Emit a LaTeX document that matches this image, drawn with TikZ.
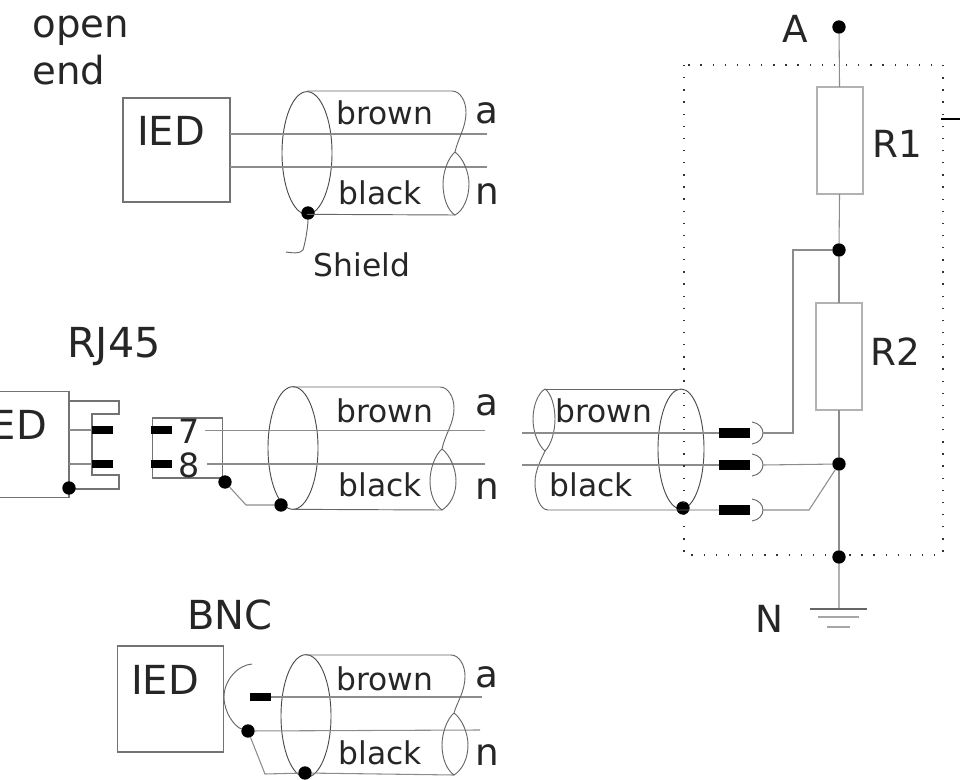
\documentclass[tikz,border=0pt]{standalone}
\usepackage{fontspec}
\setmainfont{DejaVu Sans}
\usetikzlibrary{shapes.geometric}

\tikzset{every picture/.style={line width=0.75pt}}
\tikzset{
  wire/.style={draw=black!45,line width=0.8pt},
  sheath/.style={draw=black!60,line width=0.7pt},
  boxed/.style={draw=black!55,line width=0.9pt,inner sep=0pt,outer sep=0pt},
  ied/.style={boxed,minimum width=80.25pt,minimum height=78pt},
  resistor/.style={draw=black!30,line width=1.2pt,inner sep=0pt,outer sep=0pt,minimum width=34.5pt,minimum height=80.25pt},
  shield/.style={ellipse,draw=black!70,line width=0.7pt,inner sep=0pt,outer sep=0pt,minimum width=37.5pt,minimum height=92pt},
  dot/.style={circle,fill=black,inner sep=0pt,outer sep=0pt,minimum size=10pt},
  pin/.style={rectangle,fill=black,inner sep=0pt,outer sep=0pt,minimum width=16pt,minimum height=6.5pt},
  bigpin/.style={pin,minimum width=23pt,minimum height=7.5pt},
  txt/.style={inner sep=0pt,text=black!85,font=\fontsize{23.5}{27}\selectfont},
  big/.style={inner sep=0pt,text=black!85,font=\fontsize{30}{33}\selectfont},
  mid/.style={inner sep=0pt,text=black!85,font=\fontsize{28}{31}\selectfont}
}

\begin{document}
\begin{tikzpicture}[x=0.75pt,y=0.75pt,yscale=-1,xscale=1]
        \useasboundingbox (0,0) rectangle (960,780);
        \clip (0,0) rectangle (960,780);

        %Open end
        \node[mid,anchor=base west,font=\fontsize{29}{32}\selectfont] (lblOpen) at (32,38) {open};
        \node[mid,anchor=base west,font=\fontsize{29}{32}\selectfont] (lblEnd) at (32,85) {end};
        \node[ied] (iedOpen) at (176.5,150) {};
        \node[big] (txtOpen) at (171,131) {IED};
        \node[shield] (shOpen) at (307,153) {};
        \node[dot] (dotOpen) at (308,213) {};
        \coordinate (openEndA) at (487,134);
        \coordinate (openEndN) at (487,167);
        \draw[wire] (iedOpen.east |- openEndA) -- (openEndA);
        \draw[wire] (iedOpen.east |- openEndN) -- (openEndN);
        %Cable outline
        \draw[sheath] (307,91) -- (452,91) .. controls (460,91) and (466,101) .. (466,112) .. controls (466,128) and (458,138) .. (455,152) .. controls (463,158) and (469,172) .. (469,184) .. controls (469,198) and (463,211) .. (455,215) .. controls (448,211) and (443,198) .. (443,184) .. controls (443,172) and (448,158) .. (455,152);
        \draw[sheath] (shOpen.south) -- (455,215);
        \draw[sheath] (dotOpen) .. controls (308,225) and (306,240) .. (303,250) .. controls (300,254) and (292,253) .. (286,252);
        \node[txt] (brownOpen) at (385,113) {brown};
        \node[txt] (blackOpen) at (380,193) {black};
        \node[mid] (aOpen) at (487,113) {a};
        \node[mid] (nOpen) at (487,194) {n};
        \node[txt] (lblShield) at (362,265) {Shield};

        %RJ45
        \node[big,font=\fontsize{31}{34}\selectfont] (lblRj) at (114,347) {RJ45};
        \node[ied,minimum height=79pt] (iedRj) at (15.5,444.5) {};
        \node[big] (txtRj) at (13,425) {IED};
        \draw[boxed] (iedRj.east |- 0,401) -- (119,401) -- (119,414) -- (92,414) -- (92,475) -- (119,475) -- (119,489) -- (iedRj.east |- 0,489);
        \node[pin,anchor=west] (pinSockA) at (92,430) {};
        \node[pin,anchor=west] (pinSockB) at (92,464) {};
        \draw[wire] (iedRj.east |- pinSockA) -- (pinSockA);
        \draw[wire] (iedRj.east |- pinSockB) -- (pinSockB);
        \node[dot] (dotSock) at (69,488) {};
        \node[boxed,minimum width=53pt,minimum height=45pt] (plugRj) at (187.5,448) {};
        \node[pin,anchor=west] (pinPlugA) at (151,430) {};
        \node[pin,anchor=west] (pinPlugB) at (151,464) {};
        \node[txt,font=\fontsize{25}{28}\selectfont] (num7) at (189,431) {7};
        \node[txt,font=\fontsize{25}{28}\selectfont] (num8) at (189,465) {8};
        \node[shield] (shRj) at (293,448) {};
        \node[dot] (dotPlug) at (225,482) {};
        \node[dot] (dotRj) at (281,505) {};
        \coordinate (rjStartA) at (205,430.5);
        \coordinate (rjStartN) at (207,464);
        \coordinate (rjEndA) at (485,430.5);
        \coordinate (rjEndN) at (485,464);
        \draw[wire] (rjStartA) -- (rjEndA);
        \draw[wire] (rjStartN) -- (rjEndN);
        \draw[wire] (dotPlug) -- (246,505) -- (dotRj);
        %Cable outline
        \draw[sheath] (293,387) -- (440,387) .. controls (448,387) and (454,397) .. (454,408) .. controls (454,424) and (445,434) .. (442,449) .. controls (450,455) and (456,469) .. (456,481) .. controls (456,495) and (450,505) .. (442,510) .. controls (435,505) and (430,495) .. (430,481) .. controls (430,469) and (435,455) .. (442,449);
        \draw[sheath] (shRj.south) -- (442,510);
        \node[txt] (brownRj) at (385,411) {brown};
        \node[txt] (blackRj) at (380,485) {black};
        \node[mid] (aRj) at (487,405) {a};
        \node[mid] (nRj) at (487,489) {n};

        %Right cable
        \node[shield,minimum width=34.5pt,minimum height=90pt] (shLoad) at (681,449) {};
        \node[dot] (dotLoad) at (683,508) {};
        \node[bigpin,anchor=west] (barA) at (719,433) {};
        \node[bigpin,anchor=west] (barB) at (719,465) {};
        \node[bigpin,anchor=west] (barC) at (719,510) {};
        \draw[sheath] (545,389) -- (681,389);
        \draw[sheath] (545,389) .. controls (538,393) and (533,406) .. (533,419) .. controls (533,432) and (538,445) .. (545,451) .. controls (551,445) and (555,432) .. (555,419) .. controls (555,406) and (551,393) .. (545,389);
        \draw[sheath] (545,451) .. controls (541,460) and (535,470) .. (535,483) .. controls (535,496) and (540,510) .. (548,510) -- (barC);
        \node[txt] (brownLoad) at (604,411) {brown};
        \node[txt] (blackLoad) at (591,485) {black};
        \coordinate (loadStartA) at (522,433);
        \coordinate (loadStartB) at (522,465);
        \draw[wire] (loadStartA) -- (barA);
        \draw[wire] (loadStartB) -- (barB);
        %Plug contacts
        \draw[sheath] (752,422) .. controls (759,423) and (763,428) .. (763,433) .. controls (763,438) and (759,443) .. (752,444);
        \draw[sheath] (752,454) .. controls (759,455) and (763,460) .. (763,465) .. controls (763,470) and (759,475) .. (752,476);
        \draw[sheath] (752,499) .. controls (759,500) and (763,505) .. (763,510) .. controls (763,515) and (759,520) .. (752,521);

        %Divider
        \draw[dotted,line width=0.9pt,black!80,dash pattern=on 1pt off 8.1pt] (684,65) rectangle (943,555);
        \node[dot] (dotA) at (839,27) {};
        \node[dot] (dotMid) at (839,250) {};
        \node[dot] (dotN) at (839,464) {};
        \node[dot] (dotBot) at (839,557) {};
        \node[resistor] (resA) at (840,140.5) {};
        \node[resistor] (resB) at (839,356.5) {};
        \coordinate (gndTop) at (839,609);
        \draw[wire] (dotA) -- (resA);
        \draw[wire] (resA) -- (dotMid);
        \draw[wire] (dotMid) -- (resB);
        \draw[wire] (resB) -- (dotN);
        \draw[wire] (dotN) -- (dotBot);
        \draw[wire,draw=black!30,line width=1.1pt] (dotBot) -- (gndTop);
        \draw[wire] (763,433) -- (793,433) -- (793,250) -- (dotMid);
        \draw[wire] (763,465) -- (dotN);
        \draw[wire] (763,510) -- (809,510) -- (dotN);
        %Ground
        \draw[wire,draw=black!60] (810,609) -- (867,609);
        \draw[wire,draw=black!35] (818,617) -- (859,617);
        \draw[wire,draw=black!35] (827,627) -- (850,627);
        \coordinate (tickStart) at (941,119);
        \coordinate (tickEnd) at (960,119);
        \draw[black,line width=0.8pt] (tickStart) -- (tickEnd);
        \node[mid] (lblA) at (795,29) {A};
        \node[mid] (lblN) at (769,619) {N};
        \node[mid] (lblRa) at (897,144) {R1};
        \node[mid] (lblRb) at (895,352) {R2};

        %BNC
        \node[big] (lblBnc) at (230,615) {BNC};
        \node[ied,minimum width=79.5pt,minimum height=79.5pt] (iedBnc) at (170.5,699) {};
        \node[big] (txtBnc) at (165,680) {IED};
        \node[shield] (shBnc) at (306,716) {};
        \node[pin,anchor=west] (pinBnc) at (250,697) {};
        \node[dot] (dotSleeve) at (248,731) {};
        \node[dot] (dotBnc) at (305,773) {};
        \coordinate (bncEndA) at (482,697);
        \coordinate (bncEndN) at (480,730);
        \coordinate (bncBend) at (265,774);
        \coordinate (bncEndS) at (454,775);
        \draw[wire] (pinBnc) -- (bncEndA);
        \draw[wire] (dotSleeve) -- (bncEndN);
        \draw[sheath] (252,664) .. controls (238,665) and (224,680) .. (224,697) .. controls (224,713) and (235,727) .. (dotSleeve);
        \draw[wire] (dotSleeve) -- (bncBend) -- (dotBnc) -- (bncEndS);
        %Cable outline
        \draw[sheath] (306,655) -- (451,655) .. controls (459,655) and (465,665) .. (465,676) .. controls (465,692) and (457,702) .. (454,713) .. controls (462,719) and (468,733) .. (468,745) .. controls (468,759) and (462,770) .. (454,775) .. controls (447,770) and (442,759) .. (442,745) .. controls (442,733) and (447,719) .. (454,713);
        \node[txt] (brownBnc) at (385,679) {brown};
        \node[txt] (blackBnc) at (380,753) {black};
        \node[mid] (aBnc) at (487,677) {a};
        \node[mid] (nBnc) at (487,755) {n};

    \end{tikzpicture}
\end{document}
